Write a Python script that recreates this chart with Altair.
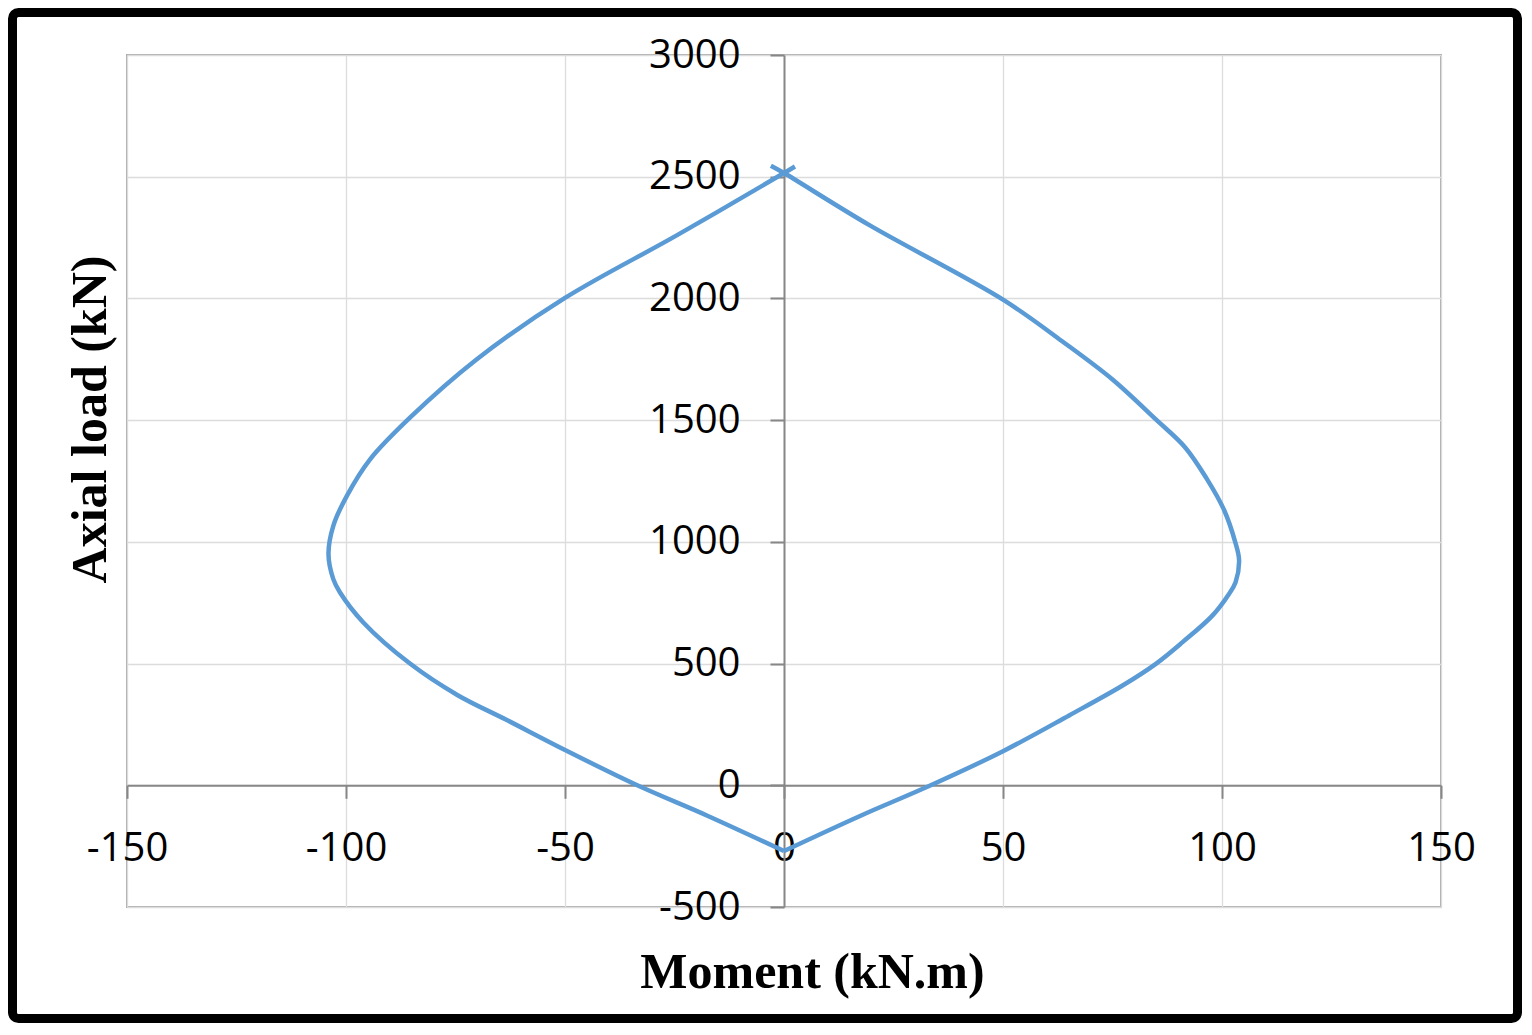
import altair as alt
import pandas as pd

# Right branch of the interaction curve, from the top crossing down to the tension end
right_moment = [-3.0, 0.0, 19.4, 50.0, 63.5, 75.0, 84.9, 91.5, 96.5, 100.5, 103.0, 103.9,
                103.1, 101.6, 97.8, 91.0, 84.9, 77.3, 65.1, 50.0, 33.5, 17.5, 0.0]
right_load = [2545, 2515, 2302, 1995, 1824, 1667, 1503, 1390, 1260, 1130, 1000, 925,
              834, 786, 697, 588, 499, 410, 287, 140, 0, -125, -270]

# Left branch, from the tension end up to the top crossing
left_moment = [0.0, -17.5, -33.5, -50.0, -63.5, -74.5, -85.4, -96.1, -101.4, -102.9, -104.0,
               -102.9, -99.8, -94.5, -85.4, -70.2, -50.0, -24.4, 0.0, 2.5]
left_load = [-270, -125, 0, 145, 270, 370, 500, 670, 793, 847, 950,
             1066, 1189, 1339, 1510, 1749, 2002, 2260, 2515, 2542]

x_ticks = [-150, -100, -50, 0, 50, 100, 150]
y_ticks = [-500, 0, 500, 1000, 1500, 2000, 2500, 3000]

rows = []
for i, (m, p) in enumerate(zip(right_moment, right_load)):
    rows.append({"branch": "right", "seq": i, "moment": m, "load": p})
for i, (m, p) in enumerate(zip(left_moment, left_load)):
    rows.append({"branch": "left", "seq": i, "moment": m, "load": p})
df = pd.DataFrame(rows)

W, H = 1314, 852
x_min, x_max = -150, 150
y_min, y_max = -500, 3000
x_zero_px = W * (0 - x_min) / (x_max - x_min)
y_zero_px = H * (y_max - 0) / (y_max - y_min)

PAD_L, PAD_T, PAD_R, PAD_B = 119, 47, 81, 116

axis_grey = "#878787"
grid_grey = "#dcdcdc"

x_axis = alt.Axis(
    values=x_ticks, offset=-(H - y_zero_px),
    grid=True, gridColor=grid_grey, gridWidth=1.3,
    domainColor=axis_grey, domainWidth=2,
    tickColor=axis_grey, tickWidth=2, tickSize=13,
    labelExpr="'' + datum.value",
    labelFont="Open Sans", labelFontSize=40, labelColor="black",
    labelPadding=62, labelBaseline="alphabetic",
    labelFlush=False, labelOverlap=False,
    title="Moment (kN.m)", titleFont="Liberation Serif", titleFontSize=50,
    titleFontWeight="bold", titleColor="black",
    titleX=812 - 127, titleY=987 - (55 + y_zero_px),
    titleAlign="center", titleBaseline="alphabetic",
)

y_axis = alt.Axis(
    values=y_ticks, offset=-x_zero_px,
    grid=True, gridColor=grid_grey, gridWidth=1.3,
    domainColor=axis_grey, domainWidth=2,
    tickColor=axis_grey, tickWidth=2, tickSize=14,
    labelExpr="'' + datum.value",
    labelFont="Open Sans", labelFontSize=40, labelColor="black",
    labelPadding=30, labelBaseline="middle", labelAlign="right",
    labelFlush=False, labelOverlap=False,
    title="Axial load (kN)", titleFont="Liberation Serif", titleFontSize=50,
    titleFontWeight="bold", titleColor="black", titleAngle=270,
    titleX=105 - 127 - x_zero_px, titleY=419 - 55,
    titleAlign="center", titleBaseline="alphabetic",
)

line = alt.Chart(df).mark_line(
    color="#5B9BD5", strokeWidth=4.5, interpolate="catmull-rom"
).encode(
    x=alt.X("moment:Q", scale=alt.Scale(domain=[x_min, x_max], nice=False, zero=False), axis=x_axis),
    y=alt.Y("load:Q", scale=alt.Scale(domain=[y_min, y_max], nice=False, zero=False), axis=y_axis),
    detail="branch:N",
    order="seq:Q",
)

bw = 9
border = alt.Chart(pd.DataFrame({"a": [0]})).mark_rect(
    filled=False, stroke="black", strokeWidth=bw, cornerRadius=6
).encode(
    x=alt.value(-PAD_L + bw / 2), x2=alt.value(W + PAD_R - bw / 2),
    y=alt.value(-PAD_T + bw / 2), y2=alt.value(H + PAD_B - bw / 2),
)

chart = alt.layer(line, border).properties(
    width=W, height=H,
    autosize=alt.AutoSizeParams(type="none"),
    padding={"left": PAD_L, "top": PAD_T, "right": PAD_R, "bottom": PAD_B},
    background="white",
).configure_view(stroke="#ADADAD", strokeWidth=2)

chart.save("out.html", embed_options={"renderer": "svg", "actions": False})
